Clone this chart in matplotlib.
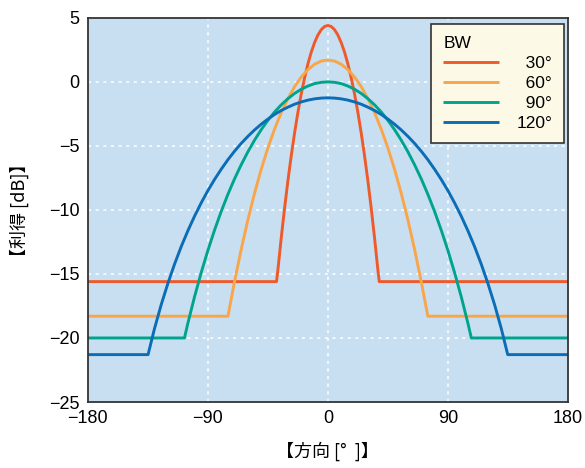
import matplotlib
matplotlib.use("Agg")
import matplotlib.pyplot as plt
import numpy as np

# Antenna gain patterns (dB), for angles >= 0.
# The patterns are symmetric, so the negative side is mirrored.
ang_30 = [0, 2.5, 5, 7.5, 10, 12.5, 15, 17.5, 20, 22.5, 25, 27.5, 30, 32.5, 35, 37.5, 38.5, 180]
gain_30 = [4.40, 4.32, 4.07, 3.65, 3.06, 2.31, 1.39, 0.30, -0.96, -2.40, -4.01, -5.79,
           -7.75, -9.89, -12.21, -14.71, -15.6, -15.6]

ang_60 = [0, 5, 10, 15, 20, 25, 30, 35, 40, 45, 50, 55, 60, 65, 70, 72.5, 74.9, 180]
gain_60 = [1.70, 1.62, 1.37, 0.95, 0.37, -0.38, -1.31, -2.41, -3.70, -5.17, -6.84, -8.71,
           -10.79, -13.09, -15.62, -16.98, -18.3, -18.3]

ang_90 = [0, 5, 10, 15, 20, 25, 30, 35, 40, 45, 50, 55, 60, 65, 70, 75, 80, 85, 90,
          95, 100, 105, 107.5, 180]
gain_90 = [0.0, -0.04, -0.14, -0.33, -0.58, -0.91, -1.32, -1.80, -2.36, -3.01, -3.74,
           -4.56, -5.47, -6.48, -7.58, -8.80, -10.13, -11.59, -13.18, -14.91, -16.80,
           -18.87, -20.0, -20.0]

ang_120 = [0, 5, 10, 15, 20, 25, 30, 35, 40, 45, 50, 55, 60, 65, 70, 75, 80, 85, 90,
           95, 100, 105, 110, 115, 120, 125, 130, 134.8, 180]
gain_120 = [-1.25, -1.27, -1.33, -1.43, -1.57, -1.75, -1.98, -2.24, -2.55, -2.91, -3.31,
            -3.76, -4.26, -4.81, -5.42, -6.09, -6.83, -7.63, -8.50, -9.46, -10.50,
            -11.64, -12.88, -14.25, -15.76, -17.42, -19.28, -21.3, -21.3]

labels = ["\u200730°", "\u200760°", "\u200790°", "120°"]
colors = ["#ef5a2a", "#f8a649", "#00a48c", "#0a6db6"]

x_ticks = [-180, -90, 0, 90, 180]
y_ticks = [5, 0, -5, -10, -15, -20, -25]

FONT = ["Liberation Sans", "DejaVu Sans", "Noto Sans CJK JP"]
CJK = ["Noto Sans CJK JP", "Liberation Sans"]
plt.rcParams["font.family"] = FONT


def mirror(a, g):
    a = np.asarray(a, float)
    g = np.asarray(g, float)
    return np.concatenate([-a[:0:-1], a]), np.concatenate([g[:0:-1], g])


fig = plt.figure(figsize=(5.85, 4.68), dpi=100)
ax = fig.add_axes([0.150, 0.141, 0.821, 0.821])
ax.set_facecolor("#c8dff2")

series = [(ang_30, gain_30), (ang_60, gain_60), (ang_90, gain_90), (ang_120, gain_120)]
for (a, g), lab, col in zip(series, labels, colors):
    x, y = mirror(a, g)
    ax.plot(x, y, color=col, linewidth=2.1, label=lab,
            solid_joinstyle="round", solid_capstyle="butt")

ax.set_xlim(-180, 180)
ax.set_ylim(-25, 5)
ax.set_xticks(x_ticks)
ax.set_yticks(y_ticks)
ax.tick_params(length=0, labelsize=13, pad=6)
ax.grid(True, color="white", linestyle=(0, (2, 3)), linewidth=1.1)
ax.set_axisbelow(True)
for s in ax.spines.values():
    s.set_color("#333333")
    s.set_linewidth(1.3)

ax.set_xlabel("【方向 [°  ]】", fontsize=13, family=CJK, labelpad=10)
ax.set_ylabel("【利得 [dB]】", fontsize=13, family=CJK, labelpad=14)

leg = ax.legend(title="BW", loc="upper right", bbox_to_anchor=(0.992, 0.984),
                fontsize=12.5, title_fontsize=12.5, frameon=True, fancybox=False,
                handlelength=3.2, handletextpad=1.0, labelspacing=0.28,
                borderpad=0.7, borderaxespad=0.0)
leg._legend_box.align = "left"
leg.get_frame().set_facecolor("#fdf9e7")
leg.get_frame().set_edgecolor("#333333")
leg.get_frame().set_linewidth(1.2)
leg.get_frame().set_alpha(1)

fig.savefig("out.png", dpi=100)
